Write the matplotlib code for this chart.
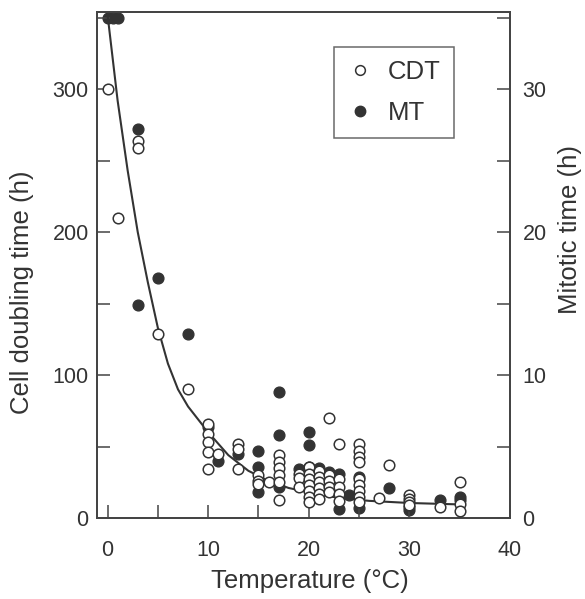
import matplotlib
matplotlib.use("Agg")
import matplotlib.pyplot as plt
from matplotlib.lines import Line2D
import numpy as np

plt.rcParams['font.family'] = ['Liberation Sans', 'DejaVu Sans']

# ---- data ----
cdt_temp = [0, 1, 3, 3, 5, 8,
            10, 10, 10, 10, 10, 11, 13, 13, 13,
            15, 15, 15, 16, 17, 17, 17, 17, 17, 17,
            19, 19, 19, 20, 20, 20, 20, 20, 20, 20,
            21, 21, 21, 21, 21, 21, 22, 22, 22, 22, 22,
            23, 23, 23, 23, 23, 25, 25, 25, 25, 25, 25, 25, 25, 25,
            27, 28, 30, 30, 30, 30, 33, 35, 35, 35]
cdt_hours = [300, 210, 264, 259, 129, 90,
             66, 59, 53, 46, 34, 45, 52, 48, 34,
             30, 26, 24, 25, 44, 39, 35, 30, 25, 12.6,
             31, 28, 22, 36, 31, 27, 23, 19, 15, 11,
             33, 29, 25, 21, 17, 13, 70, 30, 26, 22, 18,
             52, 27, 22, 17, 12, 52, 47, 43, 39, 27, 23, 19, 15, 11,
             14, 37, 16, 13, 11, 9, 8, 25, 10, 5]

mt_temp = [0, 0.5, 1, 3, 3, 5, 8, 10, 11, 13,
           15, 15, 15, 17, 17, 17, 19, 20, 20, 20, 21, 22,
           23, 23, 24, 25, 25, 28, 30, 30, 33, 35, 35]
mt_hours = [35, 35, 35, 27.2, 14.9, 16.8, 12.9, 6.4, 4.0, 4.5,
            4.7, 3.6, 1.8, 8.8, 5.8, 2.2, 3.4, 6.0, 5.1, 3.6, 3.5, 3.2,
            3.1, 0.6, 1.6, 2.9, 0.7, 2.1, 0.8, 0.55, 1.26, 1.5, 1.25]

curve_temp = [0, 1, 2, 3, 4, 5, 6, 7, 8, 9, 10, 12, 14, 16, 18, 20, 23, 26, 30, 35]
curve_hours = [352, 292, 243, 200, 165, 133, 108, 90, 78, 69, 60, 44, 33, 26, 21, 18, 14, 12, 10.5, 9.5]

x_ticks = [0, 10, 20, 30, 40]
left_ticks = [0, 100, 200, 300]
right_ticks = [0, 10, 20, 30]

# ---- figure ----
ink = '#333333'
fig = plt.figure(figsize=(5.85, 5.99), dpi=100)
ax = fig.add_axes([97/585, 1 - 518/599, (510-97)/585, (518-12)/599])
ax2 = ax.twinx()

ax.set_xlim(-1.05, 40)
ax.set_ylim(0, 354)
ax2.set_ylim(0, 35.4)

# mitotic time (filled) on right axis
ax2.scatter(mt_temp, mt_hours, s=60, facecolor=ink, edgecolor=ink,
            linewidth=1.0, zorder=3, clip_on=False)
# curve + doubling time (open) on left axis, drawn on top
ax.plot(curve_temp, curve_hours, color=ink, linewidth=1.5, zorder=2)
ax.scatter(cdt_temp, cdt_hours, s=58, facecolor='white', edgecolor=ink,
           linewidth=1.1, zorder=4)
ax.set_zorder(ax2.get_zorder() + 1)
ax.patch.set_visible(False)

for a in (ax, ax2):
    for sp in a.spines.values():
        sp.set_linewidth(1.3)
        sp.set_color('#444444')

ax.set_xticks(x_ticks)
ax.set_xticks(np.arange(0, 40, 5), minor=True)
ax.set_yticks(left_ticks)
ax.set_yticks(np.arange(0, 354, 50), minor=True)
ax2.set_yticks(right_ticks)
ax2.set_yticks(np.arange(0, 35.4, 5), minor=True)

ax.tick_params(axis='x', which='both', direction='in', length=9.5, width=1.1,
               color='#444444', labelsize=15.5, labelcolor=ink, pad=16)
ax.tick_params(axis='y', which='both', direction='in', length=9.5, width=1.1,
               color='#444444', labelsize=15.5, labelcolor=ink, pad=6)
ax2.tick_params(axis='y', which='both', direction='in', length=9.5, width=1.1,
                color='#444444', labelsize=15.5, labelcolor=ink, pad=9)

ax.set_xlabel('Temperature (\u00b0C)', fontsize=18.5, color=ink)
ax.xaxis.set_label_coords((310-97)/413, (518-581)/506)
ax.xaxis.label.set_verticalalignment('center')

ax.set_ylabel('Cell doubling time (h)', fontsize=18.5, color=ink)
ax.yaxis.set_label_coords((22-97)/413, (518-292)/506)
ax.yaxis.label.set_verticalalignment('center')

ax2.set_ylabel('Mitotic time (h)', fontsize=18.5, color=ink, rotation=90)
ax2.yaxis.set_label_coords((570-97)/413, (518-230)/506)
ax2.yaxis.label.set_verticalalignment('center')

handles = [Line2D([], [], linestyle='none', marker='o', markersize=7,
                  markerfacecolor='white', markeredgecolor=ink, markeredgewidth=1.1),
           Line2D([], [], linestyle='none', marker='o', markersize=7.5,
                  markerfacecolor=ink, markeredgecolor=ink)]
leg = ax.legend(handles, ['CDT', 'MT'], loc='upper left',
                bbox_to_anchor=((334-97)/413, (518-47)/506),
                fontsize=18.5, frameon=True, fancybox=False,
                handlelength=1.0, handletextpad=0.6, borderpad=0.5,
                labelspacing=0.68, borderaxespad=0)
leg.get_frame().set_edgecolor('#444444')
leg.get_frame().set_linewidth(1.1)
for t in leg.get_texts():
    t.set_color(ink)

fig.savefig('out.png', dpi=100, facecolor='white')
